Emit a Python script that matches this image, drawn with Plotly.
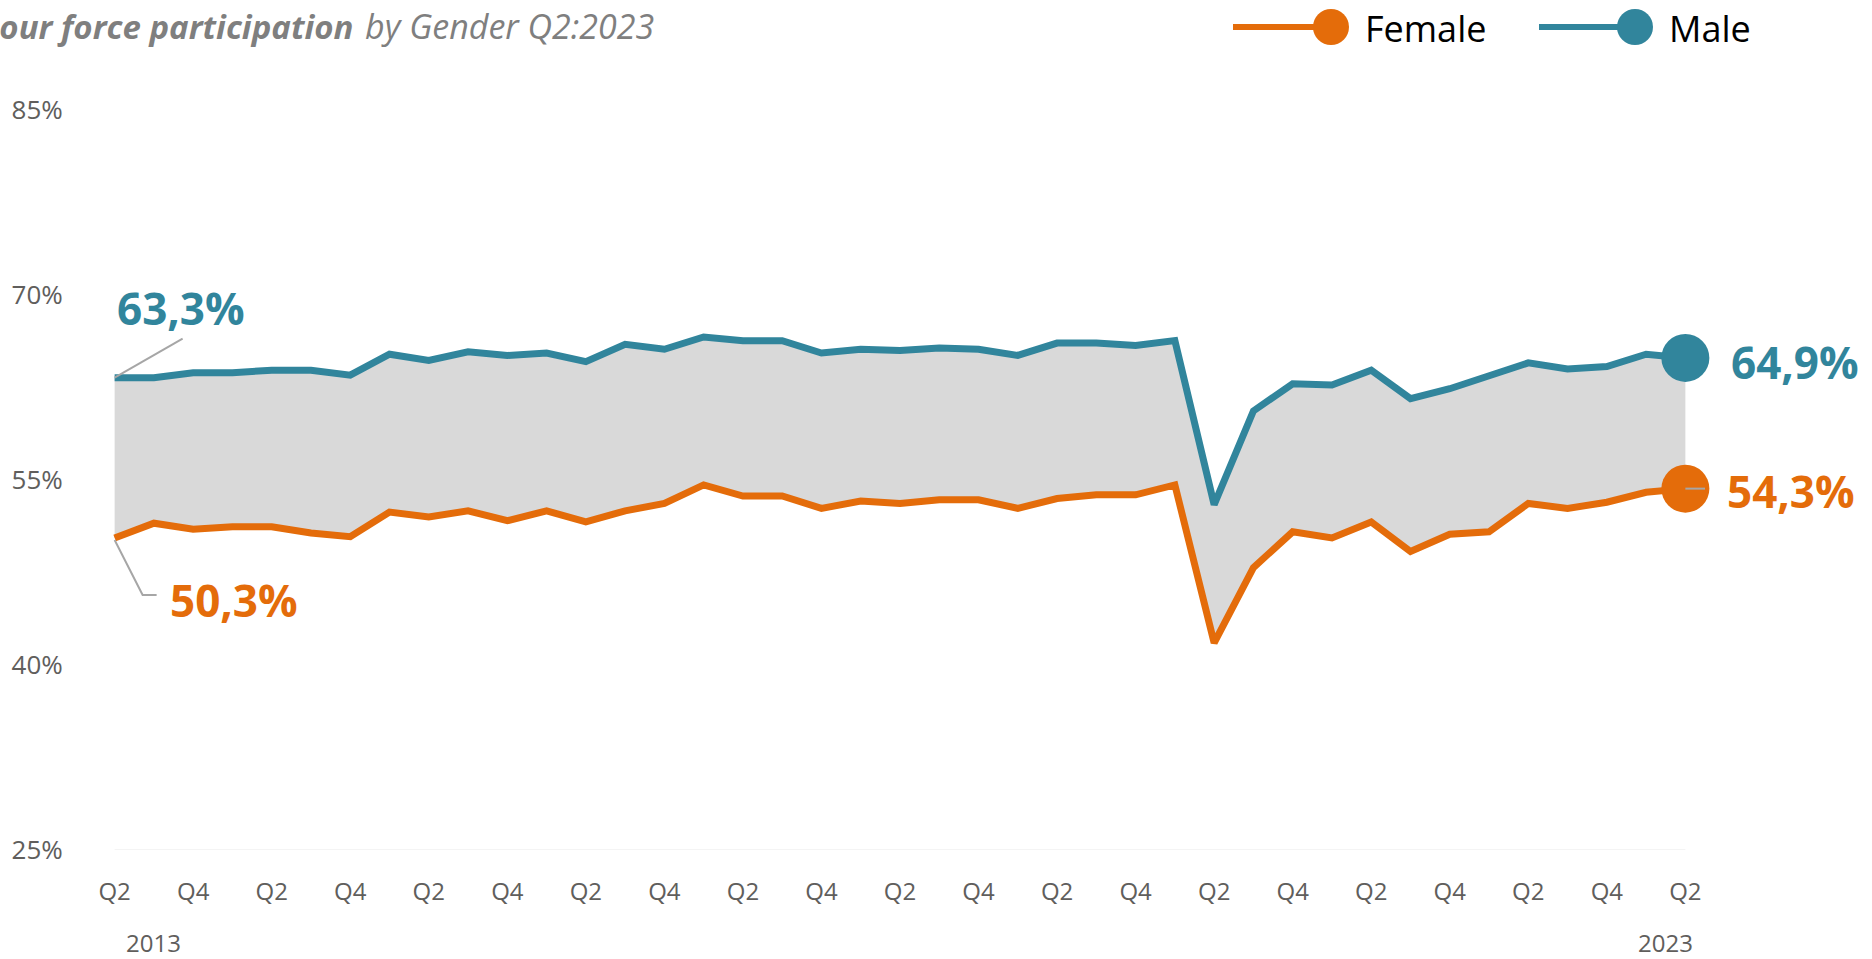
import plotly.graph_objects as go

# --- data ---
years = list(range(2013, 2024))
quarters = [f"{y} Q{q}" for y in years for q in range(1, 5)][1:-2]  # 2013 Q2 .. 2023 Q2

male = [63.3, 63.3, 63.7, 63.7, 63.9, 63.9, 63.5, 65.2, 64.7, 65.4,
        65.1, 65.3, 64.6, 66.0, 65.6, 66.6, 66.3, 66.3, 65.3, 65.6,
        65.5, 65.7, 65.6, 65.1, 66.1, 66.1, 65.9, 66.3, 53.0, 60.6,
        62.8, 62.7, 63.9, 61.6, 62.4, 63.4, 64.5, 64.0, 64.2, 65.2,
        64.9]
female = [50.3, 51.5, 51.0, 51.2, 51.2, 50.7, 50.4, 52.4, 52.0, 52.5,
          51.7, 52.5, 51.6, 52.5, 53.1, 54.6, 53.7, 53.7, 52.7, 53.3,
          53.1, 53.4, 53.4, 52.7, 53.5, 53.8, 53.8, 54.6, 41.8, 47.9,
          50.8, 50.3, 51.6, 49.2, 50.6, 50.8, 53.1, 52.7, 53.2, 54.0,
          54.3]
y_ticks = [25, 40, 55, 70, 85]
series_names = ["Female", "Male"]

ORANGE = "#E46C0A"
TEAL = "#31859C"
GREY_FILL = "#D9D9D9"
LEADER = "#A6A6A6"
TICK = "#605E5C"
FONT = "Open Sans"

# page geometry
FIG_W, FIG_H = 1872, 959
M = dict(l=95, r=167, t=110, b=109)
PW = FIG_W - M["l"] - M["r"]
PH = FIG_H - M["t"] - M["b"]


def px_x(px):
    return (px - M["l"]) / PW


def px_y(py):
    return 1 - (py - M["t"]) / PH


def pct(v):
    return f"{v:.1f}%".replace(".", ",")


idx = list(range(len(quarters)))
first, last = idx[0], idx[-1]

fig = go.Figure()

# grey band between the two series
fig.add_trace(go.Scatter(x=idx, y=female, mode="lines", line=dict(width=0),
                         showlegend=False, hoverinfo="skip"))
fig.add_trace(go.Scatter(x=idx, y=male, mode="lines", line=dict(width=0),
                         fill="tonexty", fillcolor=GREY_FILL,
                         showlegend=False, hoverinfo="skip"))

# lines
for vals, col in [(female, ORANGE), (male, TEAL)]:
    fig.add_trace(go.Scatter(x=idx, y=vals, mode="lines",
                             line=dict(color=col, width=7),
                             showlegend=False, hoverinfo="skip"))
    # end marker
    fig.add_trace(go.Scatter(x=[last], y=[vals[-1]], mode="markers",
                             marker=dict(color=col, size=48),
                             cliponaxis=False, showlegend=False,
                             hoverinfo="skip"))

# year labels, centred on the quarters shown for that year
q_years = [int(q.split()[0]) for q in quarters]
annotations = []
for yr in [q_years[0], q_years[-1]]:
    pos = [i for i, y in zip(idx, q_years) if y == yr]
    annotations.append(dict(x=sum(pos) / len(pos), xref="x", y=0, yref="paper",
                            yanchor="middle", yshift=-92, text=str(yr),
                            showarrow=False, borderpad=0,
                            font=dict(family=FONT, size=24, color=TICK)))

# data labels
label_font = dict(family=FONT, size=44)
annotations += [
    dict(x=first, y=male[0], text=f"<b>{pct(male[0])}</b>", showarrow=False,
         xanchor="left", yanchor="middle", xshift=0, yshift=70,
         font=dict(label_font, color=TEAL)),
    dict(x=first, y=female[0], text=f"<b>{pct(female[0])}</b>", showarrow=False,
         xanchor="left", yanchor="middle", xshift=53, yshift=-62,
         font=dict(label_font, color=ORANGE)),
    dict(x=last, y=male[-1], text=f"<b>{pct(male[-1])}</b>", showarrow=False,
         xanchor="left", yanchor="middle", xshift=44, yshift=-4,
         font=dict(label_font, color=TEAL)),
    dict(x=last, y=female[-1], text=f"<b>{pct(female[-1])}</b>", showarrow=False,
         xanchor="left", yanchor="middle", xshift=40, yshift=-2,
         font=dict(label_font, color=ORANGE)),
]

# title (left part runs off the page, as in the original)
annotations += [
    dict(x=px_x(355), y=px_y(26), xref="paper", yref="paper", xanchor="right",
         yanchor="middle", showarrow=False,
         text="<b><i>Labour force participation</i></b>",
         font=dict(family=FONT, size=33, color="#7F7F7F")),
    dict(x=px_x(363), y=px_y(26), xref="paper", yref="paper", xanchor="left",
         yanchor="middle", showarrow=False,
         text="<i>by Gender Q2:2023</i>",
         font=dict(family=FONT, size=34, color="#7F7F7F")),
]

# legend (line + dot, drawn by hand)
shapes = []
legend_items = [(series_names[0], ORANGE, 1233, 1331, 1363),
                (series_names[1], TEAL, 1539, 1635, 1667)]
for name, col, lx0, cx, tx in legend_items:
    shapes.append(dict(type="line", xref="paper", yref="paper",
                       x0=px_x(lx0), x1=px_x(cx), y0=px_y(27), y1=px_y(27),
                       line=dict(color=col, width=6)))
    shapes.append(dict(type="circle", xref="paper", yref="paper",
                       xsizemode="pixel", ysizemode="pixel",
                       xanchor=px_x(cx), yanchor=px_y(27),
                       x0=-18, x1=18, y0=-18, y1=18,
                       fillcolor=col, line=dict(width=0)))
    annotations.append(dict(x=px_x(tx), y=px_y(28), xref="paper", yref="paper",
                            xanchor="left", yanchor="middle", showarrow=False,
                            text=name, font=dict(family=FONT, size=36, color="#000000")))

# leader lines from the points to the labels
leaders = [(first, male[0], "M0,0 L68,39"),
           (first, female[0], "M0,-2 L28,-57 L42,-57"),
           (last, female[-1], "M0,0 L29,0")]
for ax, ay, path in leaders:
    shapes.append(dict(type="path", xref="x", yref="y",
                       xsizemode="pixel", ysizemode="pixel",
                       xanchor=ax, yanchor=ay, path=path,
                       line=dict(color=LEADER, width=2), layer="above"))

# faint baseline
shapes.append(dict(type="line", xref="x", yref="y", x0=first, x1=last,
                   y0=y_ticks[0], y1=y_ticks[0],
                   line=dict(color="#F0F0F0", width=1.5), layer="below"))

tick_idx = [i for i, q in zip(idx, quarters) if q.endswith(("Q2", "Q4"))]
tick_txt = [quarters[i].split()[1] for i in tick_idx]

fig.update_layout(
    width=FIG_W, height=FIG_H,
    margin=M,
    paper_bgcolor="white", plot_bgcolor="white",
    hovermode=False,
    showlegend=False,
    font=dict(family=FONT, color=TICK),
    annotations=annotations,
    shapes=shapes,
    xaxis=dict(range=[-0.5, last + 0.5], tickvals=tick_idx, ticktext=tick_txt,
               showgrid=False, zeroline=False, showline=False,
               ticks="outside", ticklen=20, tickcolor="rgba(0,0,0,0)",
               tickfont=dict(family=FONT, size=24, color=TICK)),
    yaxis=dict(range=[y_ticks[0], y_ticks[-1]], tickvals=y_ticks,
               ticktext=[f"{v}%" for v in y_ticks],
               showgrid=False, zeroline=False, showline=False,
               ticks="outside", ticklen=26, tickcolor="rgba(0,0,0,0)",
               tickfont=dict(family=FONT, size=26, color=TICK)),
)

fig.write_html("out.html", config={"displayModeBar": False},
               post_script="document.body.style.margin='0px';document.body.style.overflow='hidden';")
